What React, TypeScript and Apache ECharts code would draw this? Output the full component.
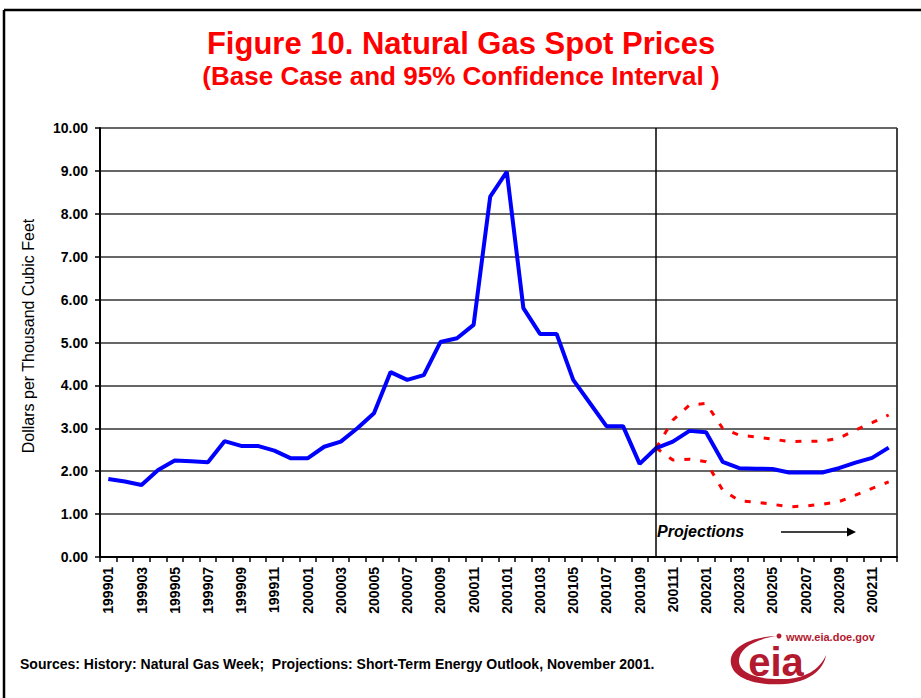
import React, { useEffect, useRef } from 'react';
import * as echarts from 'echarts';

const categories = [
  '199901','199902','199903','199904','199905','199906','199907','199908','199909','199910','199911','199912',
  '200001','200002','200003','200004','200005','200006','200007','200008','200009','200010','200011','200012',
  '200101','200102','200103','200104','200105','200106','200107','200108','200109','200110','200111','200112',
  '200201','200202','200203','200204','200205','200206','200207','200208','200209','200210','200211','200212',
];

// Base case (history through 200110, projections after)
const spotPrice = [
  1.82, 1.76, 1.68, 2.03, 2.25, 2.23, 2.21, 2.70, 2.59, 2.59, 2.48, 2.30,
  2.30, 2.57, 2.69, 3.00, 3.35, 4.31, 4.13, 4.24, 5.01, 5.10, 5.41, 8.40,
  8.98, 5.80, 5.20, 5.20, 4.13, 3.59, 3.05, 3.05, 2.17, 2.54, 2.69, 2.94,
  2.91, 2.22, 2.07, 2.06, 2.05, 1.97, 1.97, 1.97, 2.07, 2.20, 2.31, 2.55,
];

const projectionStart = '200110';
// 95% confidence interval, 200110 .. 200212
const upperBound = [2.54, 3.19, 3.54, 3.58, 3.00, 2.84, 2.80, 2.75, 2.69, 2.70, 2.70, 2.77, 2.96, 3.13, 3.31];
const lowerBound = [2.54, 2.26, 2.28, 2.22, 1.56, 1.31, 1.28, 1.23, 1.17, 1.19, 1.23, 1.29, 1.44, 1.60, 1.75];

const yTicks = { min: 0, max: 10, interval: 1 };

const titleText = 'Figure 10. Natural Gas Spot Prices';
const subtitleText = '(Base Case and 95% Confidence Interval )';
const yAxisName = 'Dollars per Thousand Cubic Feet';
const sourceText = 'Sources: History: Natural Gas Week;  Projections: Short-Term Energy Outlook, November 2001.';

const SWOOSH =
  'M 776 636 C 750 637 728 648 731 664 C 734 680 760 686 785 684 C 808 682 824 670 826 655 ' +
  'C 820 670 803 679 785 679 C 760 680 740 674 739 662 C 738 650 752 640 776 636 Z';

const FONT = '"Liberation Sans", Arial, sans-serif';
const EIA_RED = '#b3192f';

export default function App() {
  const ref = useRef<HTMLDivElement>(null);

  useEffect(() => {
    document.body.style.margin = '0';
    if (!ref.current) return;
    echarts.graphic.registerShape('eiaSwoosh', echarts.graphic.extendPath(SWOOSH, {}) as any);
    const chart = echarts.init(ref.current, null, { renderer: 'svg' });
    const pad = new Array(categories.indexOf(projectionStart)).fill(null);

    chart.setOption({
      animation: false,
      backgroundColor: '#ffffff',
      grid: { left: 100, right: 24, top: 128, bottom: 141, containLabel: false },
      xAxis: {
        type: 'category',
        data: categories,
        boundaryGap: true,
        axisLine: { lineStyle: { color: '#000', width: 2 } },
        axisTick: { show: true, interval: 0, length: 5, lineStyle: { color: '#000', width: 1.5 } },
        axisLabel: {
          interval: 1,
          rotate: 90,
          margin: 10,
          fontSize: 14,
          fontWeight: 'bold',
          color: '#000',
          fontFamily: FONT,
        },
        splitLine: { show: false },
      },
      yAxis: {
        type: 'value',
        min: yTicks.min,
        max: yTicks.max,
        interval: yTicks.interval,
        axisLine: { show: true, lineStyle: { color: '#000', width: 2 } },
        axisTick: { show: true, length: 5, lineStyle: { color: '#000', width: 1.5 } },
        axisLabel: {
          formatter: (v: number) => v.toFixed(2),
          margin: 12,
          fontSize: 14,
          fontWeight: 'bold',
          color: '#000',
          fontFamily: FONT,
        },
        splitLine: { lineStyle: { color: '#333', width: 1.5 } },
      },
      series: [
        {
          name: 'Upper 95%',
          type: 'line',
          data: pad.concat(upperBound),
          symbol: 'none',
          lineStyle: { color: '#ff0000', width: 3, type: [6, 10] },
          z: 2,
        },
        {
          name: 'Lower 95%',
          type: 'line',
          data: pad.concat(lowerBound),
          symbol: 'none',
          lineStyle: { color: '#ff0000', width: 3, type: [6, 10] },
          z: 2,
        },
        {
          name: 'Base Case',
          type: 'line',
          data: spotPrice,
          symbol: 'none',
          lineStyle: { color: '#0000ff', width: 4 },
          z: 3,
          markLine: {
            silent: true,
            symbol: ['none', 'none'],
            label: { show: false },
            lineStyle: { color: '#000', width: 1.5, type: 'solid' },
            data: [{ xAxis: projectionStart }],
          },
        },
      ],
      graphic: [
        { type: 'line', shape: { x1: 4, y1: 10, x2: 921, y2: 10 }, style: { stroke: '#000', lineWidth: 2.5 } },
        { type: 'line', shape: { x1: 4, y1: 10, x2: 4, y2: 698 }, style: { stroke: '#000', lineWidth: 2.5 } },
        { type: 'line', shape: { x1: 897, y1: 128, x2: 897, y2: 557 }, style: { stroke: '#444', lineWidth: 2 } },
        {
          type: 'text', x: 461, y: 43,
          style: { text: titleText, align: 'center', verticalAlign: 'middle', fill: '#ff0000', font: `bold 31px ${FONT}` },
        },
        {
          type: 'text', x: 461, y: 76,
          style: { text: subtitleText, align: 'center', verticalAlign: 'middle', fill: '#ff0000', font: `bold 26px ${FONT}` },
        },
        {
          type: 'text', x: 28, y: 336, rotation: Math.PI / 2,
          style: { text: yAxisName, align: 'center', verticalAlign: 'middle', fill: '#000', font: `16px ${FONT}` },
        },
        {
          type: 'text', x: 657, y: 531,
          style: { text: 'Projections', align: 'left', verticalAlign: 'middle', fill: '#000', font: `italic bold 16px ${FONT}` },
        },
        { type: 'line', shape: { x1: 781, y1: 532, x2: 849, y2: 532 }, style: { stroke: '#000', lineWidth: 1.5 } },
        { type: 'polygon', shape: { points: [[847, 527.5], [856, 532], [847, 536.5]] }, style: { fill: '#000' } },
        {
          type: 'text', x: 20, y: 664,
          style: { text: sourceText, align: 'left', verticalAlign: 'middle', fill: '#000', font: `bold 14px ${FONT}` },
        },
        { type: 'eiaSwoosh', x: 0, y: 0, style: { fill: EIA_RED } },
        { type: 'circle', shape: { cx: 779, cy: 636, r: 2.5 }, style: { fill: EIA_RED } },
        {
          type: 'text', x: 776, y: 662,
          style: { text: 'eia', align: 'center', verticalAlign: 'middle', fill: EIA_RED, font: `bold 40px ${FONT}` },
        },
        {
          type: 'text', x: 786, y: 637,
          style: { text: 'www.eia.doe.gov', align: 'left', verticalAlign: 'middle', fill: EIA_RED, font: `bold 11px ${FONT}` },
        },
      ],
    });

    return () => {
      chart.dispose();
    };
  }, []);

  return <div ref={ref} style={{ width: 921, height: 698, background: '#fff' }} />;
}
